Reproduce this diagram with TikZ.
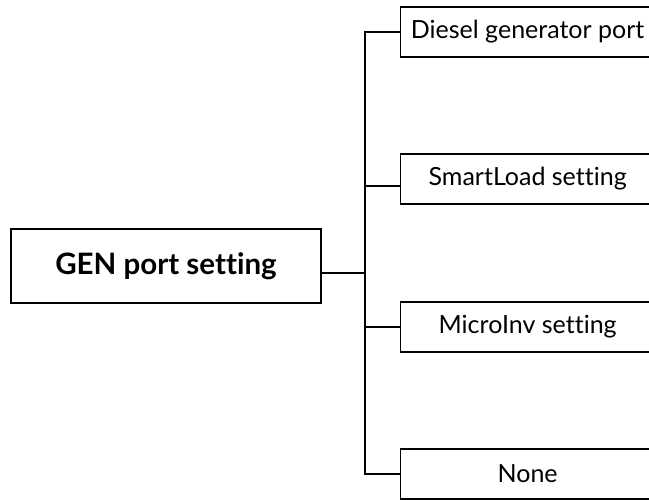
\documentclass[tikz,border=0pt]{standalone}
\usepackage{fontspec}
\setmainfont{Lato}[Ligatures=NoCommon]
\begin{document}
\begin{tikzpicture}[x=1pt,y=-1pt,
  box/.style={draw=black,line width=1.3pt,rectangle,inner sep=0pt,fill=white},
  leaf/.style={box,minimum width=254pt,minimum height=50pt,font=\fontsize{25}{28}\selectfont},
  root/.style={box,minimum width=310pt,minimum height=74pt,font=\fontsize{29.5}{32}\bfseries\selectfont},
  wire/.style={draw=black,line width=1.3pt}]
\clip (0,0) rectangle (649,500);
\fill[white] (0,0) rectangle (649,500);
\node[root] (gen) at (166,266) {GEN port setting};
\node[leaf,anchor=west] (d1) at (400,32) {Diesel generator port};
\node[leaf,anchor=west] (d2) at (400,179) {SmartLoad setting};
\node[leaf,anchor=west] (d3) at (400,327) {MicroInv setting};
\node[leaf,anchor=west] (d4) at (400,474) {None};
\coordinate (tk) at (365,0);
\coordinate (g1) at ([yshift=-7pt]gen.east);
\coordinate (s2) at ([yshift=-7pt]d2.west);
\draw[wire] (g1) -- (g1 -| tk);
\draw[wire] (d1.west) -- (d1.west -| tk) -- (d4.west -| tk) -- (d4.west);
\draw[wire] (s2) -- (s2 -| tk);
\draw[wire] (d3.west) -- (d3.west -| tk);
\end{tikzpicture}
\end{document}
